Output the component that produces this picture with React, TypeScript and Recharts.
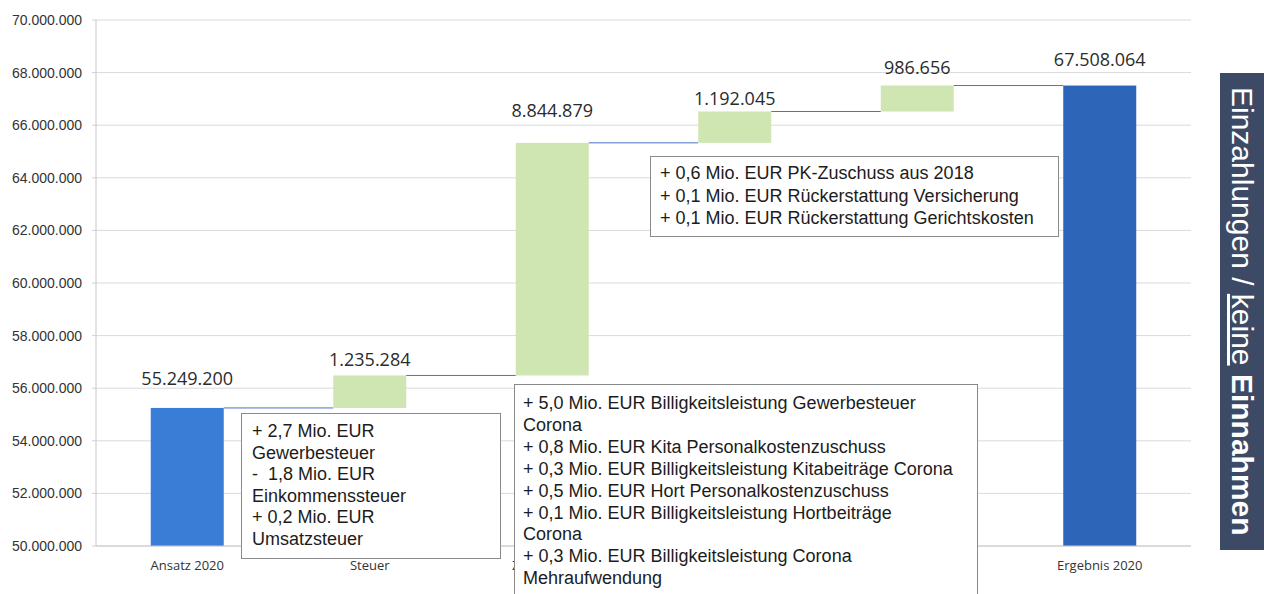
import React from 'react'
import { ComposedChart, Bar, XAxis, YAxis, CartesianGrid, LabelList, Cell } from 'recharts'

// Einzahlungen 2020: Ansatz -> Veränderungen -> Ergebnis
const categories = ['Ansatz 2020', 'Steuer', 'Zuweisungen', 'Erstattungen', 'Sonstiges', 'Ergebnis 2020']
const changes = [55249200, 1235284, 8844879, 1192045, 986656, 67508064]
const isTotal = [true, false, false, false, false, true]
const yTicks = [50000000, 52000000, 54000000, 56000000, 58000000, 60000000, 62000000, 64000000, 66000000, 68000000, 70000000]

const Y_MIN = 50000000
const Y_MAX = 70000000

const barColors = ['#3a7dd6', '#cfe5b2', '#cfe5b2', '#cfe5b2', '#cfe5b2', '#2d65b9']
// value labels sit at slightly different heights in the original
const labelLift = [23, 9, 26, 6, 12, 20]

const steuerNotes = ['+ 2,7 Mio. EUR', 'Gewerbesteuer', '-  1,8 Mio. EUR', 'Einkommenssteuer', '+ 0,2 Mio. EUR', 'Umsatzsteuer']
const zuweisungNotes = [
  '+ 5,0 Mio. EUR Billigkeitsleistung Gewerbesteuer',
  'Corona',
  '+ 0,8 Mio. EUR Kita Personalkostenzuschuss',
  '+ 0,3 Mio. EUR Billigkeitsleistung Kitabeiträge Corona',
  '+ 0,5 Mio. EUR Hort Personalkostenzuschuss',
  '+ 0,1 Mio. EUR Billigkeitsleistung Hortbeiträge',
  'Corona',
  '+ 0,3 Mio. EUR Billigkeitsleistung Corona',
  'Mehraufwendung',
]
const erstattungNotes = [
  '+ 0,6 Mio. EUR PK-Zuschuss aus 2018',
  '+ 0,1 Mio. EUR Rückerstattung Versicherung',
  '+ 0,1 Mio. EUR Rückerstattung Gerichtskosten',
]

let running = 0
const data = categories.map((name, i) => {
  let low: number
  let high: number
  if (isTotal[i]) {
    low = Y_MIN
    high = changes[i]
    running = changes[i]
  } else {
    low = running
    high = running + changes[i]
    running = high
  }
  return { name, range: [low, high], label: changes[i] }
})

const fmt = (v: number) => String(Math.round(v)).replace(/\B(?=(\d{3})+(?!\d))/g, '.')

function WaterfallBar(props: any) {
  const { x, y, width, height, fill, index } = props
  const top = Math.min(y, y + height)
  const h = Math.abs(height)
  const last = index === data.length - 1
  return (
    <g>
      <rect x={x} y={top} width={width} height={h} fill={fill} />
      {!last && (
        <line x1={x + width} x2={x + width * 2.5} y1={top} y2={top} stroke="#4a72c8" strokeWidth={1} />
      )}
    </g>
  )
}

function ValueLabel(props: any) {
  const { x, y, width, height, index, value } = props
  const top = Math.min(y, y + height)
  return (
    <text
      x={x + width / 2}
      y={top - labelLift[index]}
      textAnchor="middle"
      fontFamily="'Open Sans', sans-serif"
      fontSize={18}
      fill="#2b2b2b"
    >
      {fmt(value)}
    </text>
  )
}

const boxStyle: React.CSSProperties = {
  position: 'absolute',
  background: '#fff',
  border: '1px solid #8a8a8a',
  fontFamily: "'Liberation Sans', Arial, sans-serif",
  fontSize: 18,
  color: '#1c1c1c',
  whiteSpace: 'pre',
  boxSizing: 'border-box',
}

export default function App() {
  return (
    <div style={{ position: 'relative', width: 1264, height: 594, overflow: 'hidden', background: '#fff' }}>
      <style>{'body{margin:0}'}</style>
      <ComposedChart width={1264} height={594} data={data} margin={{ top: 20, right: 73, bottom: 18, left: 0 }} barCategoryGap="30%">
        <CartesianGrid vertical={false} stroke="#dadada" />
        <XAxis
          dataKey="name"
          height={30}
          interval={0}
          axisLine={{ stroke: '#c8c8c8' }}
          tickLine={false}
          tickMargin={9}
          tick={{ fontSize: 13, fill: '#333', fontFamily: "'Open Sans', sans-serif" }}
        />
        <YAxis
          width={96}
          domain={[Y_MIN, Y_MAX]}
          ticks={yTicks}
          allowDataOverflow
          axisLine={{ stroke: '#c8c8c8' }}
          tickLine={{ stroke: '#d0d0d0' }}
          tickSize={4}
          tickMargin={10}
          tickFormatter={fmt}
          tick={{ fontSize: 14, fill: '#333', fontFamily: "'Liberation Sans', Arial, sans-serif" }}
        />
        <Bar dataKey="range" isAnimationActive={false} shape={WaterfallBar}>
          {data.map((d, i) => (
            <Cell key={d.name} fill={barColors[i]} />
          ))}
          <LabelList dataKey="label" content={ValueLabel} />
        </Bar>
      </ComposedChart>

      <div style={{ ...boxStyle, left: 241, top: 413, width: 260, height: 146, padding: '7px 10px', lineHeight: '21.6px' }}>
        {steuerNotes.map((t, i) => (
          <div key={i}>{t}</div>
        ))}
      </div>
      <div style={{ ...boxStyle, left: 514, top: 384, width: 464, height: 230, padding: '8px 8px', lineHeight: '21.9px' }}>
        {zuweisungNotes.map((t, i) => (
          <div key={i}>{t}</div>
        ))}
      </div>
      <div style={{ ...boxStyle, left: 650, top: 156, width: 409, height: 81, padding: '5px 9px', lineHeight: '22.5px' }}>
        {erstattungNotes.map((t, i) => (
          <div key={i}>{t}</div>
        ))}
      </div>

      <div style={{ position: 'absolute', left: 1220, top: 73, width: 50, height: 477, background: '#3c4a66' }}>
        <div
          style={{
            position: 'absolute',
            left: 44,
            top: 0,
            width: 477,
            height: 44,
            transform: 'rotate(90deg)',
            transformOrigin: 'top left',
            color: '#fff',
            fontFamily: "'Liberation Sans', Arial, sans-serif",
            fontSize: 30,
            lineHeight: '44px',
            paddingLeft: 14,
            whiteSpace: 'nowrap',
            boxSizing: 'border-box',
          }}
        >
          Einzahlungen / <span style={{ textDecoration: 'underline' }}>keine</span> <b>Einnahmen</b>
        </div>
      </div>
    </div>
  )
}
